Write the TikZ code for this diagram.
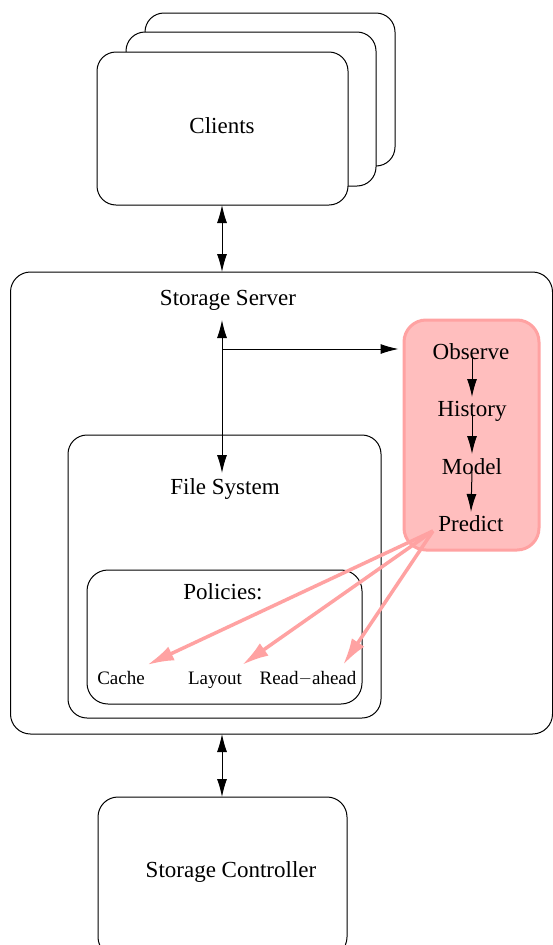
\documentclass[tikz,border=0pt]{standalone}
\usepackage{fontspec}
\setmainfont{Liberation Serif}
\usetikzlibrary{arrows.meta,calc}
\definecolor{predfill}{RGB}{255,190,190}
\definecolor{predline}{RGB}{255,162,162}
\begin{document}
\begin{tikzpicture}[x=1pt,y=-1pt,
  >={Latex[length=18pt,width=10pt]},
  box/.style={draw=black,line width=1pt,rounded corners=19pt,fill=white,
              inner sep=0pt,outer sep=0pt},
  lbl/.style={inner sep=0pt,anchor=base,font=\fontsize{23}{27}\selectfont},
  small/.style={inner sep=0pt,anchor=base,font=\fontsize{19}{23}\selectfont},
  arr/.style={line width=1pt,->},
  biarr/.style={line width=1pt,<->},
  hint/.style={draw=predline,line width=3.5pt,-{Latex[length=27pt,width=15pt]}}]
\clip (0,0) rectangle (553,945);

% client stack
\node[box,minimum width=250pt,minimum height=153pt] (client3) at (270,89.5) {};
\node[box,minimum width=250pt,minimum height=154pt] (client2) at (251,109) {};
\node[box,minimum width=251pt,minimum height=153pt] (clients) at (222.5,128.5) {};
\node[lbl] (clientsl) at (222,133.5) {Clients};

% storage server and nested boxes
\node[box,minimum width=542pt,minimum height=462pt,rounded corners=20pt] (server) at (281.5,503) {};
\node[lbl] (serverl) at (228,305) {Storage Server};
\node[box,minimum width=313pt,minimum height=283pt] (fs) at (224.5,576.5) {};
\node[lbl] (fsl) at (225,494) {File System};
\node[box,minimum width=275pt,minimum height=134pt,rounded corners=21pt] (pol) at (224.5,637) {};
\node[lbl] (poll) at (223,599) {Policies:};
\node[small] (cache) at (121,684) {Cache};
\node[small] (layout) at (215,684) {Layout};
\node[small] (readahead) at (308,684) {Read\raisebox{0.1ex}{$-$}ahead};

% storage controller
\node[box,minimum width=249pt,minimum height=160pt,rounded corners=20pt] (ctrl) at (222.5,877) {};
\node[lbl] (ctrll) at (231,877) {Storage Controller};

% prediction pipeline
\node[draw=predline,fill=predfill,line width=3pt,rounded corners=22pt,
      minimum width=135pt,minimum height=230pt,inner sep=0pt] (pred) at (471.5,435) {};
\node[lbl] (obs) at (471,359) {Observe};
\node[lbl] (his) at (472,416) {History};
\node[lbl] (mod) at (472,474) {Model};
\node[lbl] (pre) at (471,531) {Predict};

% connectors
\draw[biarr] (clients.south -| 222,0) -- (server.north -| 222,0);
\draw[biarr] (server.south -| 222,0) -- (ctrl.north -| 222,0);

\coordinate (up) at (222,320);
\coordinate (down) at (222,473);
\coordinate (tap) at (222,349);
\draw[biarr] (up) -- (down);
\draw[arr,shorten >=4pt] (tap) -- (tap -| pred.west);

\draw[arr] ($(obs.base)+(1,-1)$) -- ($(his.base)+(0,-19)$);
\draw[arr] ($(his.base)+(0,-2)$) -- ($(mod.base)+(0,-20)$);
\draw[arr] ($(mod.base)+(0,-2)$) -- ($(pre.base)+(0,-19)$);

\coordinate (src) at (433,531);
\draw[hint] (src) -- (147,665);
\draw[hint] (src) -- (242,665);
\draw[hint] (src) -- (343,665);
\end{tikzpicture}
\end{document}
